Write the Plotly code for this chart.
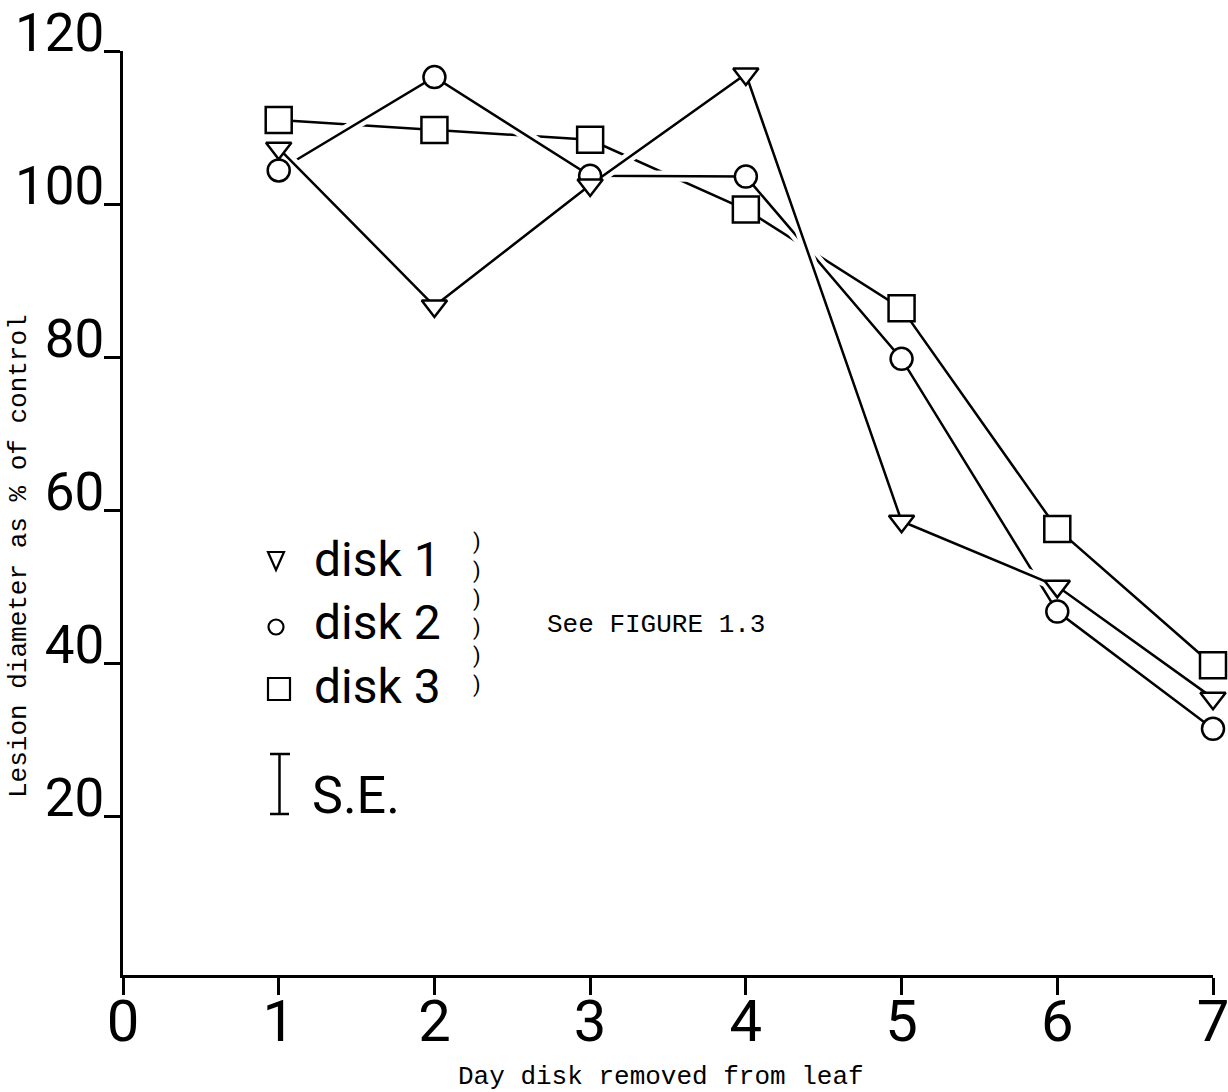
import plotly.graph_objects as go

# Day on which the disk was removed from the leaf
days = [1, 2, 3, 4, 5, 6, 7]

# Lesion diameter as % of control for each disk
disk1 = [107.3, 86.7, 102.5, 117.0, 58.6, 50.1, 35.5]
disk2 = [104.4, 116.6, 103.7, 103.6, 79.8, 46.8, 31.5]
disk3 = [111.0, 109.7, 108.4, 99.3, 86.4, 57.6, 39.8]

series_names = ["disk 1", "disk 2", "disk 3"]
x_ticks = [0, 1, 2, 3, 4, 5, 6, 7]
y_ticks = [20, 40, 60, 80, 100, 120]

x_title = "Day disk removed from leaf"
y_title = "Lesion diameter as % of control"
note_text = "See FIGURE 1.3"
se_text = "S.E."
bracket_text = "<br>".join([")"] * 6)

W, H = 1228, 1092
L, R, T, B = 123, 1213, 51, 975  # plot area, pixels

SANS = "Roboto, 'Open Sans', sans-serif"
MONO = "'Liberation Mono', 'DejaVu Sans Mono', monospace"
INK = "black"
LW = 2.5


def fx(p):
    return (p - L) / (R - L)


def fy(p):
    return (B - p) / (B - T)


fig = go.Figure()

# Connecting lines; upper lines carry a white halo so that the lines
# they cross appear broken, as in a hand-inked figure.
fig.add_trace(go.Scatter(x=days, y=disk3, mode="lines",
                         line=dict(color=INK, width=LW), hoverinfo="skip"))
for vals in (disk2, disk1):
    fig.add_trace(go.Scatter(x=days, y=vals, mode="lines",
                             line=dict(color="white", width=11), hoverinfo="skip"))
    fig.add_trace(go.Scatter(x=days, y=vals, mode="lines",
                             line=dict(color=INK, width=LW), hoverinfo="skip"))

# Open (white-filled) markers on top of all lines
for name, vals, sym, size in ((series_names[2], disk3, "square", 26),
                              (series_names[1], disk2, "circle", 22),
                              (series_names[0], disk1, "triangle-down", 22)):
    fig.add_trace(go.Scatter(
        x=days, y=vals, mode="markers", name=name, cliponaxis=False,
        marker=dict(symbol=sym, size=size, color="white",
                    line=dict(color=INK, width=LW))))

fig.update_xaxes(
    range=[0, 7], tickvals=x_ticks, ticktext=[str(v) for v in x_ticks],
    ticks="outside", ticklen=17, tickwidth=LW, tickcolor=INK,
    ticklabelstandoff=-24, ticklabeloverflow="allow", automargin=False,
    showline=True, linecolor=INK, linewidth=3, showgrid=False, zeroline=False,
    tickfont=dict(family=SANS, size=58, color=INK))
fig.update_yaxes(
    range=[-0.65, 120], tickvals=y_ticks, ticktext=[str(v) for v in y_ticks],
    ticks="outside", ticklen=16, tickwidth=LW, tickcolor=INK,
    ticklabelposition="outside", ticklabelshift=-19, ticklabelstandoff=-11,
    ticklabeloverflow="allow", automargin=False,
    showline=True, linecolor=INK, linewidth=3, showgrid=False, zeroline=False,
    tickfont=dict(family=SANS, size=53, color=INK))


def note(text, x, y, size, family=SANS, xanchor="left", **kw):
    return dict(text=text, x=fx(x), y=fy(y), xref="paper", yref="paper",
                xanchor=xanchor, yanchor="middle", showarrow=False,
                font=dict(family=family, size=size, color=INK), **kw)


annotations = [
    # Axis titles
    note(x_title, 661, 1077, 26, MONO, "center"),
    note(y_title, 19, 556, 26, MONO, "center", textangle=-90),
    # Cross-reference note
    note(note_text, 545, 625, 26, MONO),
    # Bracket marks beside the key
    note(bracket_text, 477, 614, 22, SANS, "center"),
    # Standard-error key
    note(se_text, 310, 795, 52),
]
# Key labels
for i, name in enumerate(series_names):
    annotations.append(note(name, 312, 559 + 63.5 * i, 48))

shapes = []
# Key symbols
shapes.append(dict(type="path", xref="paper", yref="paper",
                   path=f"M {fx(268)},{fy(552)} L {fx(284)},{fy(552)} L {fx(276)},{fy(570)} Z",
                   line=dict(color=INK, width=2.2), fillcolor="white"))
shapes.append(dict(type="circle", xref="paper", yref="paper",
                   x0=fx(268.5), x1=fx(283.5), y0=fy(634.5), y1=fy(619.5),
                   line=dict(color=INK, width=2.2)))
shapes.append(dict(type="rect", xref="paper", yref="paper",
                   x0=fx(268), x1=fx(290), y0=fy(700), y1=fy(678),
                   line=dict(color=INK, width=2.2)))
# Error-bar key glyph
for x0, y0, x1, y1 in ((279.5, 754, 279.5, 814), (270, 754, 290, 754), (270, 814, 289, 814)):
    shapes.append(dict(type="line", xref="paper", yref="paper",
                       x0=fx(x0), y0=fy(y0), x1=fx(x1), y1=fy(y1),
                       line=dict(color=INK, width=2.5)))

fig.update_layout(
    width=W, height=H, autosize=False,
    margin=dict(l=L, r=W - R, t=T, b=H - B, pad=0),
    paper_bgcolor="white", plot_bgcolor="white",
    showlegend=False, annotations=annotations, shapes=shapes,
)

fig.write_html("out.html")
